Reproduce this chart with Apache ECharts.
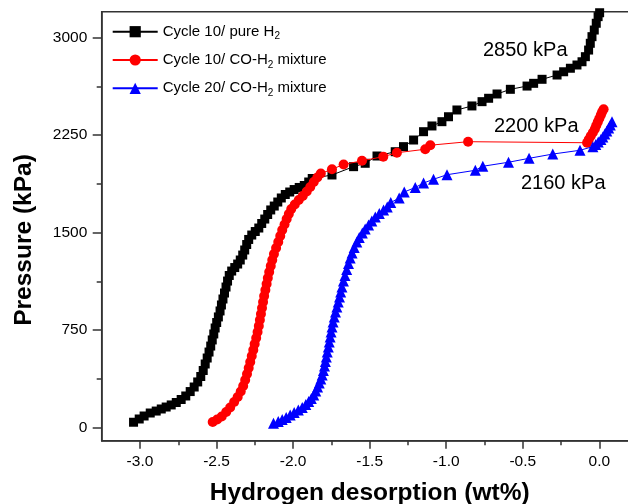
<!DOCTYPE html>
<html>
<head>
<meta charset="utf-8">
<script src="https://cdn.jsdelivr.net/npm/echarts@6/dist/echarts.min.js"></script>
<style>html,body{margin:0;padding:0;background:#fff}#c{width:628px;height:504px}</style>
</head>
<body>
<div id="c"></div>
<script>
// ---- data (x: wt%, y: kPa) ----
const seriesNames = ['Cycle 10/ pure H2', 'Cycle 10/ CO-H2 mixture', 'Cycle 20/ CO-H2 mixture'];
const pureH2 = [
  [-3.042,42],[-3.005,67],[-2.973,90],[-2.933,113],[-2.894,128],[-2.861,144],[-2.829,159],[-2.796,175],
  [-2.763,194],[-2.731,217],[-2.701,244],[-2.672,278],[-2.646,313],[-2.623,352],[-2.603,394],[-2.587,440],
  [-2.574,490],[-2.561,536],[-2.549,582],[-2.538,628],[-2.528,675],[-2.518,721],[-2.509,767],[-2.499,809],
  [-2.488,852],[-2.477,898],[-2.468,944],[-2.458,990],[-2.448,1036],[-2.438,1082],[-2.428,1128],[-2.417,1171],
  [-2.401,1205],[-2.381,1232],[-2.362,1259],[-2.345,1290],[-2.329,1328],[-2.316,1367],[-2.303,1409],[-2.290,1448],
  [-2.270,1482],[-2.247,1509],[-2.224,1536],[-2.205,1571],[-2.185,1605],[-2.166,1640],[-2.146,1675],[-2.123,1705],
  [-2.100,1736],[-2.077,1767],[-2.051,1794],[-2.022,1813],[-1.993,1832],[-1.960,1848],[-1.927,1863],[-1.898,1890],
  [-1.875,1917],[-1.746,1944],[-1.605,2008],[-1.529,2034],[-1.452,2090],[-1.333,2123],[-1.279,2162],[-1.213,2213],
  [-1.148,2277],[-1.093,2321],[-1.028,2354],[-0.985,2392],[-0.930,2444],[-0.832,2475],[-0.766,2508],[-0.723,2534],
  [-0.668,2567],[-0.581,2603],[-0.472,2628],[-0.429,2649],[-0.374,2680],[-0.276,2713],[-0.233,2738],[-0.189,2765],
  [-0.146,2790],[-0.113,2815],[-0.091,2854],[-0.070,2905],[-0.059,2957],[-0.048,3008],[-0.033,3059],[-0.020,3111],
  [-0.008,3162],[0.002,3192],[0.008,3250]
];
const coMix10 = [
  [-2.525,44],[-2.496,63],[-2.466,86],[-2.437,121],[-2.411,155],[-2.385,198],[-2.362,236],[-2.342,278],
  [-2.326,321],[-2.313,367],[-2.301,413],[-2.290,459],[-2.280,505],[-2.270,552],[-2.260,598],[-2.251,644],
  [-2.241,690],[-2.232,736],[-2.224,782],[-2.217,828],[-2.210,875],[-2.203,921],[-2.196,967],[-2.189,1013],
  [-2.181,1059],[-2.173,1105],[-2.165,1152],[-2.156,1198],[-2.146,1244],[-2.136,1290],[-2.125,1336],[-2.111,1382],
  [-2.097,1428],[-2.084,1475],[-2.071,1521],[-2.056,1563],[-2.042,1605],[-2.028,1644],[-2.012,1682],[-1.989,1717],
  [-1.963,1752],[-1.937,1782],[-1.911,1817],[-1.888,1852],[-1.865,1890],[-1.842,1925],[-1.819,1955],[-1.746,1988],
  [-1.670,2025],[-1.550,2053],[-1.411,2085],[-1.322,2115],[-1.137,2142],[-1.104,2173],[-0.857,2200],[-0.080,2192],
  [-0.069,2217],[-0.056,2244],[-0.042,2271],[-0.029,2298],[-0.020,2325],[-0.010,2352],[0.000,2378],[0.010,2405],
  [0.018,2428],[0.028,2449]
];
const coMix20 = [
  [-2.128,34],[-2.097,48],[-2.071,63],[-2.045,78],[-2.019,98],[-1.993,117],[-1.966,136],[-1.940,155],
  [-1.917,178],[-1.898,202],[-1.881,225],[-1.865,252],[-1.852,282],[-1.840,313],[-1.829,344],[-1.819,375],
  [-1.810,405],[-1.802,440],[-1.795,475],[-1.789,509],[-1.783,544],[-1.777,582],[-1.770,621],[-1.764,659],
  [-1.758,698],[-1.752,736],[-1.746,775],[-1.739,813],[-1.731,852],[-1.723,890],[-1.714,928],[-1.705,967],
  [-1.697,1005],[-1.689,1044],[-1.681,1082],[-1.671,1128],[-1.661,1171],[-1.650,1217],[-1.638,1263],[-1.627,1305],
  [-1.615,1344],[-1.601,1386],[-1.584,1428],[-1.568,1463],[-1.548,1498],[-1.529,1528],[-1.507,1559],[-1.486,1590],
  [-1.463,1621],[-1.437,1648],[-1.409,1675],[-1.385,1698],[-1.362,1732],[-1.307,1767],[-1.274,1813],[-1.202,1848],
  [-1.148,1882],[-1.083,1911],[-0.995,1946],[-0.810,1980],[-0.761,2011],[-0.593,2042],[-0.459,2072],[-0.304,2105],
  [-0.126,2134],[-0.042,2162],[-0.023,2178],[-0.007,2198],[0.010,2217],[0.023,2236],[0.036,2259],[0.049,2282],
  [0.061,2305],[0.072,2328],[0.083,2354]
];
const xMajorTicks = [-3.0,-2.5,-2.0,-1.5,-1.0,-0.5,0.0];
const xMinorTicks = [-2.75,-2.25,-1.75,-1.25,-0.75,-0.25];
const yMajorTicks = [0,750,1500,2250,3000];
const yMinorTicks = [375,1125,1875,2625];
const annotations = ['2850 kPa','2200 kPa','2160 kPa'];
const xTitle = 'Hydrogen desorption (wt%)';
const yTitle = 'Pressure (kPa)';

const FONT = 'Liberation Sans, Arial, sans-serif';
const AX = '#333';
const XMIN = -3.25, XMAX = 0.25, YMIN = -100, YMAX = 3200;

const chart = echarts.init(document.getElementById('c'));
const hidden = {show:false};
function xAxisBase(extra){
  return Object.assign({type:'value', min:XMIN, max:XMAX, gridIndex:0, splitLine:hidden}, extra);
}
function yAxisBase(extra){
  return Object.assign({type:'value', min:YMIN, max:YMAX, gridIndex:0, splitLine:hidden}, extra);
}
chart.setOption({
  animation:false,
  backgroundColor:'#fff',
  grid:{left:101.7, top:11.7, right:-9.6, bottom:63.3, show:true, borderColor:AX, borderWidth:1.5,
    containLabel:false, outerBoundsMode:'none'},
  legend:{
    orient:'vertical', left:106.7, top:16.7, itemWidth:45, itemHeight:14, itemGap:8.3,
    data:seriesNames,
    formatter: n => n.replace(/H2/g,'H{sub|2}'),
    textStyle:{fontFamily:FONT, fontSize:15, color:'#000', lineHeight:20,
      rich:{sub:{fontFamily:FONT, fontSize:10, color:'#000', verticalAlign:'bottom'}}}
  },
  xAxis:[
    xAxisBase({position:'bottom',
      axisLine:{show:true, onZero:false, lineStyle:{color:AX, width:1.5}},
      axisTick:{show:true, inside:false, length:8, customValues:xMajorTicks, lineStyle:{color:AX, width:1.5}},
      axisLabel:{show:true, margin:13, customValues:xMajorTicks, formatter:v=>v.toFixed(1),
        fontFamily:FONT, fontSize:15.5, color:'#000'},
      name:xTitle, nameLocation:'middle', nameGap:40.5,
      nameTextStyle:{fontFamily:FONT, fontSize:24.5, fontWeight:'bold', color:'#000'}}),
    xAxisBase({position:'bottom', axisLine:{show:false, onZero:false},
      axisTick:{show:true, length:4.5, customValues:xMinorTicks, lineStyle:{color:AX, width:1.5}},
      axisLabel:hidden})
  ],
  yAxis:[
    yAxisBase({position:'left',
      axisLine:{show:true, onZero:false, lineStyle:{color:AX, width:1.5}},
      axisTick:{show:true, inside:false, length:9, customValues:yMajorTicks, lineStyle:{color:AX, width:1.5}},
      axisLabel:{show:true, margin:14.4, customValues:yMajorTicks, formatter:v=>String(v),
        fontFamily:FONT, fontSize:15.5, color:'#000'}}),
    yAxisBase({position:'left', axisLine:{show:false, onZero:false},
      axisTick:{show:true, length:5, customValues:yMinorTicks, lineStyle:{color:AX, width:1.5}},
      axisLabel:hidden})
  ],
  series:[
    {name:seriesNames[0], type:'line', data:pureH2, symbol:'rect', symbolSize:9,
      itemStyle:{color:'#000'}, lineStyle:{color:'#000', width:1}, clip:true, z:3},
    {name:seriesNames[1], type:'line', data:coMix10, symbol:'circle', symbolSize:10,
      itemStyle:{color:'#ff0000'}, lineStyle:{color:'#ff0000', width:1}, clip:true, z:4},
    {name:seriesNames[2], type:'line', data:coMix20, symbol:'triangle', symbolSize:11,
      itemStyle:{color:'#0000ff'}, lineStyle:{color:'#0000ff', width:1}, clip:true, z:5}
  ],
  graphic:[
    {type:'text', x:24, y:240, rotation:Math.PI/2,
      style:{text:yTitle, font:'bold 24.5px '+FONT, fill:'#000', align:'center', verticalAlign:'middle'}},
    {type:'text', left:483, top:40, style:{text:annotations[0], font:'20px '+FONT, fill:'#000'}},
    {type:'text', left:494, top:116, style:{text:annotations[1], font:'20px '+FONT, fill:'#000'}},
    {type:'text', left:521, top:173, style:{text:annotations[2], font:'20px '+FONT, fill:'#000'}}
  ]
});
</script>
</body>
</html>
